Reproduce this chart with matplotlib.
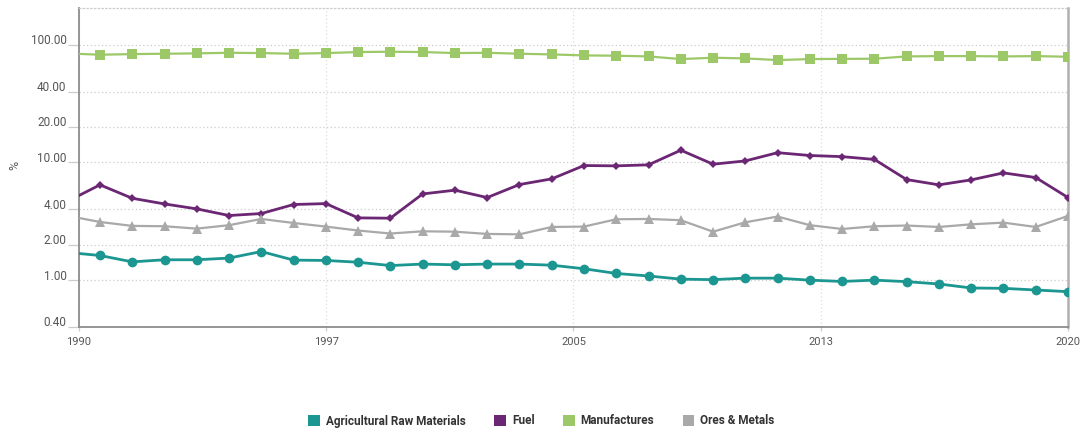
import numpy as np
import matplotlib
matplotlib.use("Agg")
import matplotlib.pyplot as plt
import matplotlib.transforms as mtransforms
from matplotlib.patches import Patch

# ---- Export shares by product group, % of merchandise exports ----
years = list(range(1989, 2021))

agri = [1.72, 1.62, 1.43, 1.49, 1.49, 1.54, 1.75, 1.48, 1.47, 1.42, 1.33,
        1.37, 1.35, 1.37, 1.37, 1.34, 1.25, 1.14, 1.085, 1.02, 1.01, 1.04,
        1.04, 1.00, 0.975, 1.00, 0.971, 0.928, 0.858, 0.852, 0.825, 0.798]
fuel = [4.68, 6.45, 4.96, 4.44, 4.03, 3.54, 3.68, 4.39, 4.47, 3.38, 3.36,
        5.40, 5.81, 5.03, 6.49, 7.25, 9.41, 9.35, 9.54, 12.7, 9.66, 10.3,
        12.1, 11.45, 11.2, 10.6, 7.15, 6.45, 7.11, 8.15, 7.44, 5.03]
manuf = [84.3, 82.2, 83.2, 83.8, 84.4, 85.4, 84.9, 83.8, 84.9, 86.6, 87.2,
         86.6, 84.9, 85.4, 83.8, 82.7, 81.1, 80.6, 79.5, 75.5, 77.5, 76.5,
         74.0, 75.5, 75.8, 76.0, 79.5, 80.0, 80.0, 79.5, 80.0, 79.0]
ores = [3.52, 3.12, 2.89, 2.87, 2.74, 2.93, 3.31, 3.06, 2.85, 2.64, 2.49,
        2.60, 2.58, 2.47, 2.45, 2.83, 2.85, 3.29, 3.31, 3.23, 2.58, 3.10,
        3.47, 2.93, 2.72, 2.87, 2.91, 2.83, 2.98, 3.08, 2.83, 3.51]

y_ticks = [0.4, 1, 2, 4, 10, 20, 40, 100]
x_tick_labels = ["1990", "1997", "2005", "2013", "2020"]

series = [
    ("Agricultural Raw Materials", agri, "#1b9690", "o", 7, 2.0),
    ("Fuel", fuel, "#6b2774", "D", 4.5, 2.0),
    ("Manufactures", manuf, "#9cc867", "s", 7, 1.6),
    ("Ores & Metals", ores, "#a9a9a9", "^", 6.5, 1.6),
]

plt.rcParams["font.family"] = ["Roboto", "DejaVu Sans"]

fig = plt.figure(figsize=(10.83, 4.32), dpi=100)
ax = fig.add_axes([79 / 1083, 1 - 327 / 432, (1068 - 79) / 1083, (327 - 8) / 432])

for name, vals, color, marker, ms, lw in series:
    ax.plot(years, vals, color=color, lw=lw, marker=marker, ms=ms,
            markeredgewidth=0, label=name, clip_on=True, zorder=3)

ax.set_yscale("log")
ax.set_ylim(0.4, 205)
x0, x1 = 1989.35, 2020
ax.set_xlim(x0, x1)

ax.set_yticks(y_ticks)
ax.set_yticklabels([f"{v:.2f}" for v in y_ticks])
ax.yaxis.set_minor_locator(matplotlib.ticker.NullLocator())
ax.set_xticks(np.linspace(x0, x1, 5))
ax.set_xticklabels(x_tick_labels)

ax.grid(axis="y", color="#cccccc", linestyle=(0, (1, 2)), lw=0.9)
ax.grid(axis="x", color="#dddddd", linestyle=(0, (1, 2)), lw=0.9)

ax.tick_params(axis="y", length=8, color="#cccccc", width=0.9,
               labelsize=8.5, labelcolor="#555555", pad=1)
ax.tick_params(axis="x", length=3, color="#cccccc", width=0.9,
               labelsize=8, labelcolor="#555555", pad=4)

# y labels sit a little above their gridlines
offset = mtransforms.ScaledTranslation(0, 5.5 / 100, fig.dpi_scale_trans)
for lab in ax.get_yticklabels():
    lab.set_transform(lab.get_transform() + offset)

for side in ["left", "bottom"]:
    ax.spines[side].set_color("#8c8c8c")
    ax.spines[side].set_linewidth(1.3)
ax.spines["right"].set_color("#b0b0b0")
ax.spines["right"].set_linewidth(1.8)
ax.spines["top"].set_color("#cccccc")
ax.spines["top"].set_linestyle((0, (1, 2)))
ax.spines["top"].set_linewidth(0.9)

fig.text(15 / 1083, 1 - 165 / 432, "%", rotation=90, fontsize=9,
         color="#555555", ha="center", va="center")

handles = [Patch(facecolor=c, edgecolor="none", label=n) for n, _, c, _, _, _ in series]
fig.legend(handles=handles, loc="center", bbox_to_anchor=(0.5, 11 / 432), ncol=4,
           frameon=False, handlelength=1.0, handleheight=1.0, handletextpad=0.5,
           columnspacing=2.4, prop={"weight": "bold", "size": 8.5},
           labelcolor="#333333")

fig.savefig("out.png", dpi=100, facecolor="white")
